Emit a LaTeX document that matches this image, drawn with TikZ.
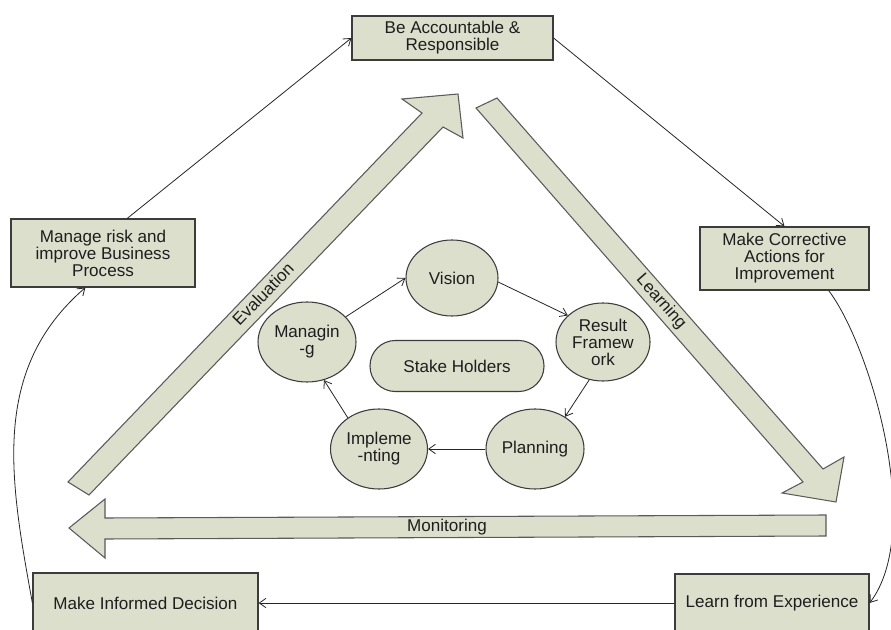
\documentclass[tikz,border=0pt]{standalone}
\usepackage{fontspec}
\setmainfont{Liberation Sans}
\usetikzlibrary{shapes.geometric,arrows.meta,calc}
\definecolor{fillc}{RGB}{221,223,205}
\definecolor{edgec}{RGB}{60,60,60}
\definecolor{arrc}{RGB}{90,90,90}
\definecolor{txtc}{RGB}{30,30,30}
\begin{document}
\begin{tikzpicture}[x=0.75pt,y=-0.75pt,
  font=\fontsize{12.8}{12.8}\selectfont,
  boxnode/.style={draw=edgec,line width=0.9pt,fill=fillc,align=center,inner sep=0pt,text=txtc},
  ell/.style={ellipse,draw=edgec,line width=0.8pt,fill=fillc,align=center,inner sep=0pt,text=txtc},
  conn/.style={draw=black!85,line width=0.6pt,-{Straight Barb[length=5pt,width=7pt]}},
  bigarrow/.style={draw=arrc,line width=0.8pt,fill=fillc,line join=miter},
  lbl/.style={text=txtc,inner sep=0pt}]
\useasboundingbox (0,0) rectangle (891,630);
\fill[white] (0,0) rectangle (891,630);
\clip (0,0) rectangle (891,630);

% big block arrows
\draw[bigarrow] (68,482) -- (422,113) -- (402,99) -- (458,94) -- (463,138) -- (443,127) -- (89,495) -- cycle;
\node[lbl,rotate=46] (evl) at (263,294) {Evaluation};
\draw[bigarrow] (497,98) -- (823,469) -- (844,457) -- (836,502) -- (782,493) -- (803,482) -- (476,108) -- cycle;
\node[lbl,rotate=-48.8] (lrn) at (661,302) {Learning};
\draw[bigarrow] (826,515) -- (105,518) -- (105,499) -- (69,528) -- (105,558) -- (105,539) -- (826,536) -- cycle;
\node[lbl] (mon) at (447,527) {Monitoring};

% outer boxes
\node[boxnode,minimum width=150.75pt,minimum height=33pt] (acc) at (452.5,38) {Be Accountable \&\\Responsible};
\node[boxnode,minimum width=138pt,minimum height=51pt] (mgr) at (103,253) {Manage risk and\\improve Business\\Process};
\node[boxnode,minimum width=126.75pt,minimum height=47.25pt] (cor) at (784.5,258.5) {Make Corrective\\Actions for\\Improvement};
\node[boxnode,minimum width=168.75pt,minimum height=45pt] (mid) at (145.5,603) {Make Informed Decision};
\node[boxnode,minimum width=145.5pt,minimum height=43.5pt] (lfe) at (772,603) {Learn from Experience};

% inner cycle
\node[ell,minimum width=69pt,minimum height=57pt] (vis) at (452,278) {Vision};
\node[ell,minimum width=70.5pt,minimum height=58.5pt] (res) at (603,342) {Result\\Framew\\ork};
\node[ell,minimum width=73.5pt,minimum height=60pt] (plan) at (535,449) {Planning};
\node[ell,minimum width=72.75pt,minimum height=60pt] (imp) at (379,449) {Impleme\\-nting};
\node[ell,minimum width=73.5pt,minimum height=60pt] (man) at (307,342) {Managin\\-g};
\node[draw=edgec,line width=0.8pt,fill=fillc,rounded corners=19pt,minimum width=130.5pt,minimum height=38.25pt,inner sep=0pt,text=txtc] (stk) at (457,366) {Stake Holders};

% connectors
\draw[conn] (mgr.55) -- (acc.west);
\draw[conn] (acc.east) -- (cor.north);
\draw[conn] (cor.-36.5) .. controls (870,345) and (925,530) .. (lfe.east);
\draw[conn] (lfe.west) -- (mid.east);
\draw[conn] (mid.west) .. controls (10,480) and (-10,370) .. (mgr.243);

\draw[conn] (man.33) -- (vis.west);
\draw[conn] (vis.-5) -- (res.143);
\draw[conn] (res.250) -- (plan.47);
\draw[conn] (plan.west) -- (imp.east);
\draw[conn] (imp.135) -- (man.294);
\end{tikzpicture}
\end{document}
